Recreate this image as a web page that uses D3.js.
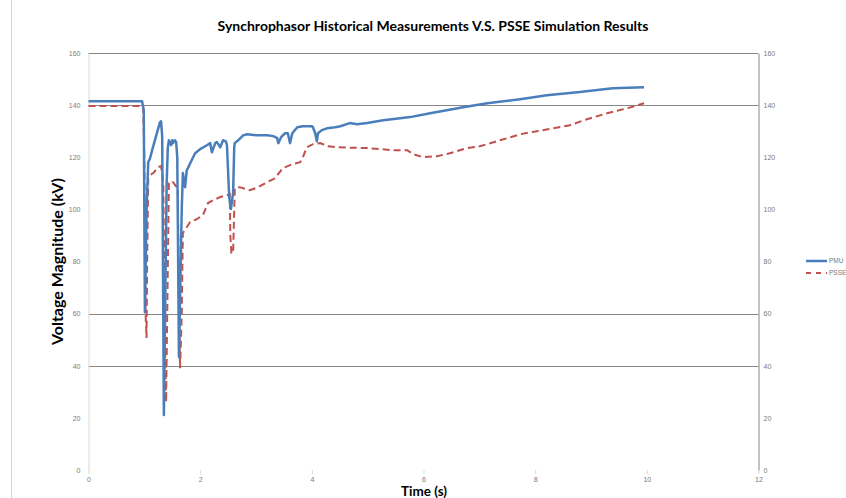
<!DOCTYPE html>
<html>
<head>
<meta charset="utf-8">
<script src="https://cdn.jsdelivr.net/npm/d3@7"></script>
<style>
  body { margin: 0; background: #fff; }
  svg { display: block; }
</style>
</head>
<body>
<svg id="chart"></svg>
<script>
// values: time in s, voltage in kV
const pmu = [
    [0, 141.6], [0.96, 141.6], [0.99, 138], [1.01, 60.6], [1.04, 100], [1.07, 118.2],
    [1.10, 119.5], [1.15, 123.6], [1.23, 129.7], [1.28, 133.5], [1.30, 133.9], [1.32, 128],
    [1.35, 21.1], [1.40, 110], [1.42, 123.6], [1.44, 126.6], [1.48, 124.7], [1.50, 126.6],
    [1.51, 125.5], [1.55, 126.6], [1.57, 125.9], [1.59, 120], [1.62, 43.4], [1.67, 100],
    [1.69, 114], [1.73, 108.6], [1.76, 115.1], [1.78, 115.9], [1.85, 119], [1.91, 121.6],
    [2.00, 123.2], [2.12, 124.7], [2.18, 125.5], [2.21, 122], [2.27, 125.5], [2.30, 125.9],
    [2.36, 123.9], [2.41, 126.6], [2.46, 126.2], [2.48, 124.7], [2.52, 104.8], [2.55, 100.2],
    [2.59, 106.3], [2.61, 123.9], [2.62, 125.5], [2.68, 126.6], [2.77, 128.5], [2.84, 128.9],
    [3.02, 128.5], [3.20, 128.5], [3.31, 128.2], [3.38, 127.4], [3.40, 125.5], [3.45, 127.8],
    [3.52, 129.3], [3.57, 129.3], [3.61, 125.5], [3.65, 129.3], [3.74, 131.6], [3.84, 132],
    [4.00, 132], [4.02, 131.6], [4.06, 129.3], [4.09, 126.2], [4.11, 129.3], [4.18, 130.5],
    [4.27, 131.2], [4.42, 131.6], [4.51, 132], [4.68, 133.2], [4.81, 132.8], [4.99, 133.2],
    [5.28, 134.3], [5.58, 135.1], [5.76, 135.5], [6.12, 137], [6.71, 139.3], [7.14, 140.8],
    [7.73, 142.4], [8.21, 143.9], [8.80, 145.1], [9.39, 146.6], [9.95, 147]
];

const psse = [
    [0, 139.8], [0.98, 139.8], [1.00, 120], [1.02, 61], [1.04, 50.7], [1.05, 80], [1.07, 112],
    [1.10, 113.2], [1.16, 114], [1.25, 116.3], [1.30, 116.7], [1.34, 110], [1.37, 50],
    [1.39, 26.1], [1.41, 60], [1.44, 110.1], [1.50, 110.9], [1.60, 108], [1.62, 60],
    [1.64, 39.1], [1.67, 60], [1.69, 91], [1.76, 93.2], [1.82, 95.2], [1.94, 96.3],
    [2.05, 97.9], [2.14, 102.5], [2.23, 103.6], [2.36, 104.8], [2.48, 105.5], [2.53, 105.9],
    [2.54, 90], [2.56, 83.3], [2.59, 83.3], [2.61, 100], [2.62, 108.2], [2.71, 108.6],
    [2.89, 107.4], [3.04, 108.6], [3.20, 110.5], [3.34, 112], [3.48, 115.9], [3.65, 117.4],
    [3.79, 118.2], [3.84, 120.1], [3.91, 123.9], [4.02, 125.1], [4.15, 125.5], [4.29, 124.3],
    [4.45, 123.9], [4.99, 123.6], [5.45, 122.8], [5.71, 122.8], [5.81, 121.3], [5.99, 120.1],
    [6.24, 120.5], [6.47, 121.6], [6.78, 123.6], [7.01, 124.3], [7.37, 126.6], [7.73, 128.9],
    [8.03, 130.1], [8.32, 131.2], [8.62, 132.4], [8.93, 134.7], [9.29, 137], [9.65, 138.9],
    [9.95, 140.8]
];

const xTicks = [0, 2, 4, 6, 8, 10, 12];
const yTicks = [0, 20, 40, 60, 80, 100, 120, 140, 160];
const gridValues = [40, 60, 140, 160];   // only these gridlines show in the original
const seriesNames = ["PMU", "PSSE"];

const width = 846, height = 498;
const svg = d3.select("#chart").attr("width", width).attr("height", height)
    .style("font-family", "'Liberation Sans', Arial, sans-serif");

const x = d3.scaleLinear().domain([0, 12]).range([88.5, 758.5]);
const y = d3.scaleLinear().domain([0, 160]).range([470, 53.3]);

// outer chart border on the left
svg.append("line")
    .attr("x1", 11.5).attr("x2", 11.5).attr("y1", 0).attr("y2", height)
    .attr("stroke", "#d4d4d4");

// gridlines
svg.append("g").selectAll("line")
    .data(gridValues).enter().append("line")
    .attr("x1", x(0)).attr("x2", x(12))
    .attr("y1", d => Math.round(y(d)) + 0.5).attr("y2", d => Math.round(y(d)) + 0.5)
    .attr("stroke", "#868686");

// left & right axes
const left = svg.append("g").attr("transform", `translate(${x(0)},0)`)
    .call(d3.axisLeft(y).tickValues(yTicks).tickSize(0).tickPadding(8));
left.select(".domain").attr("stroke", "#d9d9d9");

const right = svg.append("g").attr("transform", `translate(${x(12)},0)`)
    .call(d3.axisRight(y).tickValues(yTicks).tickSize(0).tickPadding(5));
right.select(".domain").attr("stroke", "#868686");

const bottom = svg.append("g").attr("transform", `translate(0,${y(0)})`)
    .call(d3.axisBottom(x).tickValues(xTicks).tickSize(4).tickPadding(3));
bottom.select(".domain").remove();
bottom.selectAll(".tick line").attr("stroke", "#d9d9d9");

svg.selectAll(".tick text")
    .attr("fill", "#7a7a7a")
    .style("font-size", "7px");

// series
const line = d3.line().x(d => x(d[0])).y(d => y(d[1]));

svg.append("path")
    .datum(psse)
    .attr("fill", "none")
    .attr("stroke", "#c0504d")
    .attr("stroke-width", 2)
    .attr("stroke-dasharray", "7,4")
    .attr("d", line);

svg.append("path")
    .datum(pmu)
    .attr("fill", "none")
    .attr("stroke", "#4a7ebb")
    .attr("stroke-width", 2.5)
    .attr("stroke-linejoin", "round")
    .attr("d", line);

// titles
svg.append("text")
    .attr("x", 433).attr("y", 31)
    .attr("text-anchor", "middle")
    .style("font-family", "Lato, sans-serif")
    .style("font-weight", "bold")
    .style("font-size", "14px")
    .attr("fill", "#000")
    .text("Synchrophasor Historical Measurements V.S. PSSE Simulation Results");

svg.append("text")
    .attr("transform", `translate(63,${(y(0) + y(160)) / 2}) rotate(-90)`)
    .attr("text-anchor", "middle")
    .style("font-family", "Lato, sans-serif")
    .style("font-weight", "bold")
    .style("font-size", "16px")
    .text("Voltage Magnitude (kV)");

svg.append("text")
    .attr("x", 424).attr("y", 495.5)
    .attr("text-anchor", "middle")
    .style("font-family", "Lato, sans-serif")
    .style("font-weight", "bold")
    .style("font-size", "13.5px")
    .text("Time (s)");

// legend
const legend = svg.append("g").attr("transform", "translate(806,261)");
const legendItems = legend.selectAll("g")
    .data(seriesNames).enter().append("g")
    .attr("transform", (d, i) => `translate(0,${i * 12})`);

legendItems.append("line")
    .attr("x1", 0).attr("x2", 21)
    .attr("stroke", (d, i) => i === 0 ? "#4a7ebb" : "#c0504d")
    .attr("stroke-width", (d, i) => i === 0 ? 2.5 : 2)
    .attr("stroke-dasharray", (d, i) => i === 0 ? null : "5,5");

legendItems.append("text")
    .attr("x", 23).attr("dy", "0.35em")
    .attr("fill", "#7a7a7a")
    .style("font-size", "6.5px")
    .text(d => d);
</script>
</body>
</html>
